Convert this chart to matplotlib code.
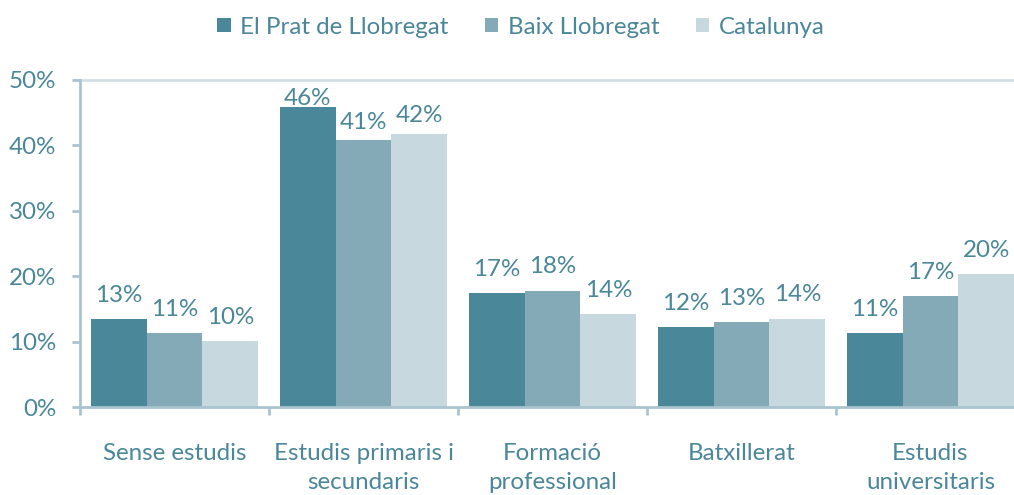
import matplotlib
matplotlib.use('Agg')
import matplotlib.pyplot as plt
import numpy as np
from matplotlib.ticker import FixedLocator, PercentFormatter

categories = ['Sense estudis', 'Estudis primaris i\nsecundaris', 'Formació\nprofessional',
              'Batxillerat', 'Estudis\nuniversitaris']
el_prat = [13.4, 45.9, 17.4, 12.2, 11.3]
baix = [11.3, 40.9, 17.8, 13.0, 16.9]
catalunya = [10.1, 41.8, 14.2, 13.5, 20.3]
series_names = ['El Prat de Llobregat', 'Baix Llobregat', 'Catalunya']

colors = ['#4a8799', '#85aab7', '#c8d8df']
text_color = '#4a8799'
plt.rcParams['font.family'] = ['Lato', 'DejaVu Sans']

fig = plt.figure(figsize=(10.14, 4.95), dpi=100)
ax = fig.add_axes([80 / 1014, 88 / 495, 945 / 1014, 327 / 495])

x = np.arange(len(categories))
w = 0.296
series = [el_prat, baix, catalunya]
# label offsets in points for the tall group (squeezed like in Excel)
tall_offsets = [1, 7.3, 8.3]
for i, vals in enumerate(series):
    bars = ax.bar(x + (i - 1) * w, vals, w, color=colors[i], label=series_names[i], zorder=2)
    for j, b in enumerate(bars):
        ax.annotate(f'{round(vals[j])}%', (b.get_x() + b.get_width() / 2, b.get_height()),
                    xytext=(0, tall_offsets[i] if j == 1 else 12.5), textcoords='offset points',
                    ha='center', va='baseline', fontsize=17.4, color=text_color)

ax.set_xlim(-0.5, 4.5)
ax.set_ylim(0, 50)
ax.yaxis.set_major_locator(FixedLocator([0, 10, 20, 30, 40, 50]))
ax.yaxis.set_major_formatter(PercentFormatter(decimals=0))
ax.axhline(50, color='#d3dfe4', lw=2, zorder=1, clip_on=False)

ax.set_xticks(x)
ax.set_xticklabels(categories, fontsize=17.4, color=text_color, linespacing=1.45)
ax.xaxis.set_minor_locator(FixedLocator(np.arange(-0.5, 5, 1)))
ax.tick_params(axis='x', which='major', length=0, pad=26)
ax.tick_params(axis='x', which='minor', length=6, width=2, color='#a9c4ce')
ax.tick_params(axis='y', length=6, width=2, color='#a9c4ce', pad=11, labelsize=17.4, labelcolor=text_color)

for s in ['top', 'right']:
    ax.spines[s].set_visible(False)
for s in ['left', 'bottom']:
    ax.spines[s].set_color('#a9c4ce')
    ax.spines[s].set_linewidth(2)

fig.legend(loc='center', bbox_to_anchor=(521 / 1014, 1 - 27 / 495), ncol=3, frameon=False,
           fontsize=17.4, labelcolor=text_color, handlelength=0.55, handleheight=0.55,
           handletextpad=0.4, columnspacing=1.5)

fig.savefig('out.png', dpi=100)
